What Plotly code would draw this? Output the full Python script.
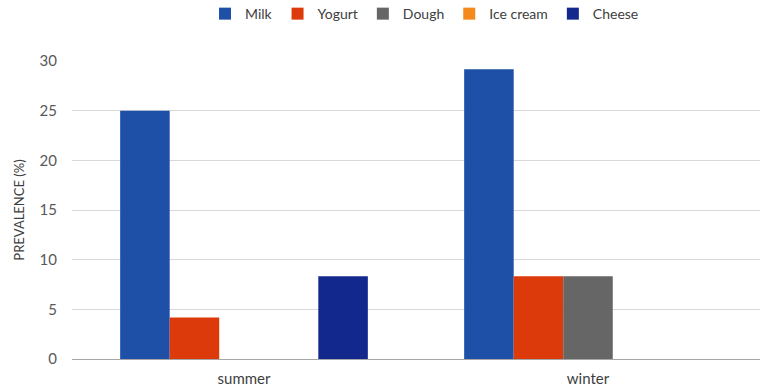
import plotly.graph_objects as go

seasons = ["summer", "winter"]
series_names = ["Milk", "Yogurt", "Dough", "Ice cream", "Cheese"]
milk = [25.0, 29.17]
yogurt = [4.17, 8.33]
dough = [0.0, 8.33]
ice_cream = [0.0, 0.0]
cheese = [8.33, 0.0]
y_ticks = [0, 5, 10, 15, 20, 25, 30]

values = [milk, yogurt, dough, ice_cream, cheese]
colors = ["#1F50A8", "#DC3A0B", "#666666", "#F28A1C", "#13288C"]

fig = go.Figure()
for name, vals, col in zip(series_names, values, colors):
    fig.add_trace(go.Bar(name=name, x=seasons, y=vals, marker=dict(color=col, line=dict(width=0))))

fig.update_layout(
    width=769, height=390,
    barmode="group", bargap=0.28, bargroupgap=0,
    paper_bgcolor="white", plot_bgcolor="white",
    margin=dict(l=72, r=9, t=61, b=31, autoexpand=False),
    font=dict(family="Lato, Noto Sans, sans-serif", color="#595959", size=15),
    legend=dict(orientation="h", x=0.552, xref="container", xanchor="center",
                y=0.964, yref="container", yanchor="middle",
                font=dict(size=14, color="#404040"), itemwidth=30, traceorder="normal"),
    xaxis=dict(showgrid=False, showline=True, linecolor="#A6A6A6", linewidth=1,
               ticks="", automargin=False, ticklabelstandoff=6,
               tickfont=dict(size=15, color="#404040")),
    yaxis=dict(range=[0, 30], tickvals=y_ticks, showgrid=True, gridcolor="#D9D9D9",
               zeroline=False, showline=False, ticks="", ticklabelstandoff=14, automargin=False,
               title=dict(text="PREVALENCE (%)", font=dict(size=13, color="#404040"), standoff=12),
               tickfont=dict(size=15, color="#595959")),
)
fig.write_html("out.html", config={"displayModeBar": False},
               post_script="document.body.style.margin='0';document.body.style.overflow='hidden';")
